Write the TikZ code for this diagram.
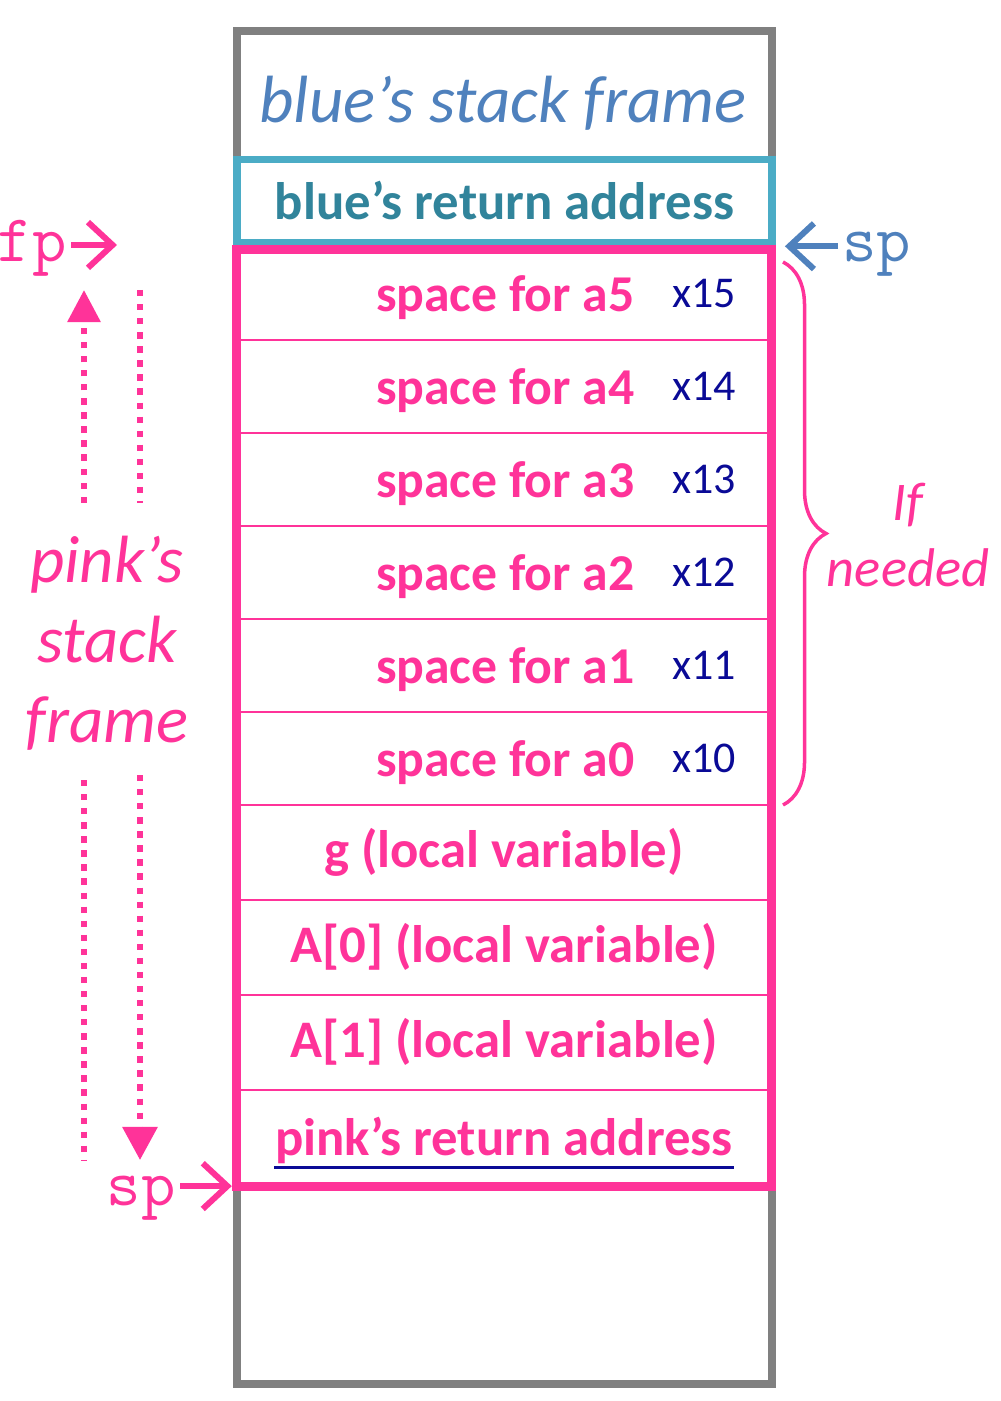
\documentclass[tikz,border=0pt]{standalone}
\usepackage{fontspec}
\setmainfont{Carlito}
\usetikzlibrary{arrows.meta,decorations.pathreplacing}

\definecolor{framegray}{HTML}{808080}
\definecolor{tealline}{HTML}{4BACC6}
\definecolor{tealtext}{HTML}{31849B}
\definecolor{bluetext}{HTML}{4F81BD}
\definecolor{pinkc}{HTML}{FF3399}
\definecolor{inkblue}{HTML}{0A0A96}

\tikzset{
  stackcol/.style={draw=framegray, line width=0.08cm, minimum width=5.35cm, minimum height=13.53cm, inner sep=0pt},
  bluebox/.style={draw=tealline, line width=0.075cm, minimum width=5.35cm, minimum height=0.83cm, inner sep=0pt,
    text=tealtext, font=\bfseries\fontsize{15}{18}\selectfont},
  bluetitle/.style={text=bluetext, font=\itshape\fontsize{19}{23}\selectfont},
  slot/.style={draw=pinkc, line width=0.6pt, minimum width=5.32cm, minimum height=0.93cm, inner sep=0pt,
    text=pinkc, font=\bfseries\fontsize{15}{18}\selectfont, text depth=0.5ex},
  slottxt/.style={anchor=east, inner sep=0pt, text=pinkc, font=\bfseries\fontsize{15}{18}\selectfont},
  hand/.style={text=inkblue, font=\fontsize{12.5}{15}\selectfont},
  pinkframe/.style={draw=pinkc, line width=0.09cm},
  codetxt/.style={inner sep=1pt, font=\ttfamily\fontsize{19}{22}\selectfont},
  chev/.style={line width=0.06cm, -{Straight Barb[length=7pt,width=13pt]}},
  dotline/.style={pinkc, line width=0.06cm, dash pattern=on 1.8pt off 2.2pt},
  pinknote/.style={text=pinkc, align=center, font=\itshape\fontsize{19}{22.8}\selectfont}
}

\begin{document}
\begin{tikzpicture}[x=0.01cm, y=-0.01cm]
\useasboundingbox (0,0) rectangle (1000,1401);

% stack column
\node[stackcol] (stack) at (504.5,707.5) {};
\node[bluetitle] (bluesf) at (503,103) {blue’s stack frame};
\node[bluebox] (blueret) at (504.5,201) {blue’s return address};

% argument slots
\foreach \i/\k in {5/0,4/1,3/2,2/3,1/4,0/5} {
  \node[slot] (a\i) at (504,293.5+93*\k) {};
  \node[slottxt, font=\bfseries\fontsize{14.7}{18}\selectfont] (s\i) at ([xshift=1.31cm,yshift=-0.04cm]a\i.center) {space for a\i};
  \node[hand] (x1\i) at ([xshift=2cm]a\i.center) {x1\i};
}

% locals and return address
\node[slot, minimum height=0.95cm] (g) at (504,852.5) {g (local variable)};
\node[slot, minimum height=0.95cm] (A0) at (504,947.5) {A[0] (local variable)};
\node[slot, minimum height=0.95cm] (A1) at (504,1042.5) {A[1] (local variable)};
\node[slot, minimum height=0.95cm] (ret) at (504,1137.5) {};
\node[slottxt, anchor=center] (rettxt) at ([yshift=-0.03cm]ret.center) {pink’s return address};
\draw[inkblue, line width=0.03cm] ([yshift=-0.12cm]rettxt.base west) -- ([yshift=-0.12cm]rettxt.base east);

% pink frame
\draw[pinkframe] ([yshift=-0.04cm]a5.north west) rectangle (ret.south east);

% pointers
\node[codetxt, pinkc, anchor=base east] (fp) at (71,262) {fp};
\coordinate (fptip) at (117,245);
\draw[chev, pinkc] (fp.east |- fptip) -- (fptip);

\node[codetxt, pinkc, anchor=base east] (spl) at (180,1205) {sp};
\draw[chev, pinkc, shorten >=0.05cm] (spl.east |- ret.south west) -- (ret.south west);

\node[codetxt, bluetext, anchor=base west] (spr) at (838,262) {sp};
\draw[chev, bluetext, shorten >=0.09cm] (spr.west |- blueret.south east) -- (blueret.south east);

% if needed
\coordinate (brtop) at (783,262);
\coordinate (brbot) at (783,805);
\draw[pinkc, line width=0.035cm, decorate, decoration={brace, amplitude=0.43cm}] (brtop) -- (brbot);
\node[pinknote, font=\itshape\fontsize{15.5}{18.5}\selectfont] (ifneeded) at (908,535) {If\\needed};

% pink's stack frame
\node[pinknote] (pinksf) at (107,643) {pink’s\\stack\\frame};
\coordinate (upA) at (84,503);
\coordinate (upB) at (84,290);
\coordinate (upC) at (140,290);
\coordinate (upD) at (140,503);
\coordinate (dnA) at (84,780);
\coordinate (dnB) at (84,1160);
\coordinate (dnC) at (140,775);
\coordinate (dnD) at (140,1160);
\draw[dotline, -{Triangle[length=0.32cm,width=0.32cm]}] (upA) -- (upB);
\draw[dotline] (upC) -- (upD);
\draw[dotline] (dnA) -- (dnB);
\draw[dotline, -{Triangle[length=0.33cm,width=0.34cm]}] (dnC) -- (dnD);
\end{tikzpicture}
\end{document}
